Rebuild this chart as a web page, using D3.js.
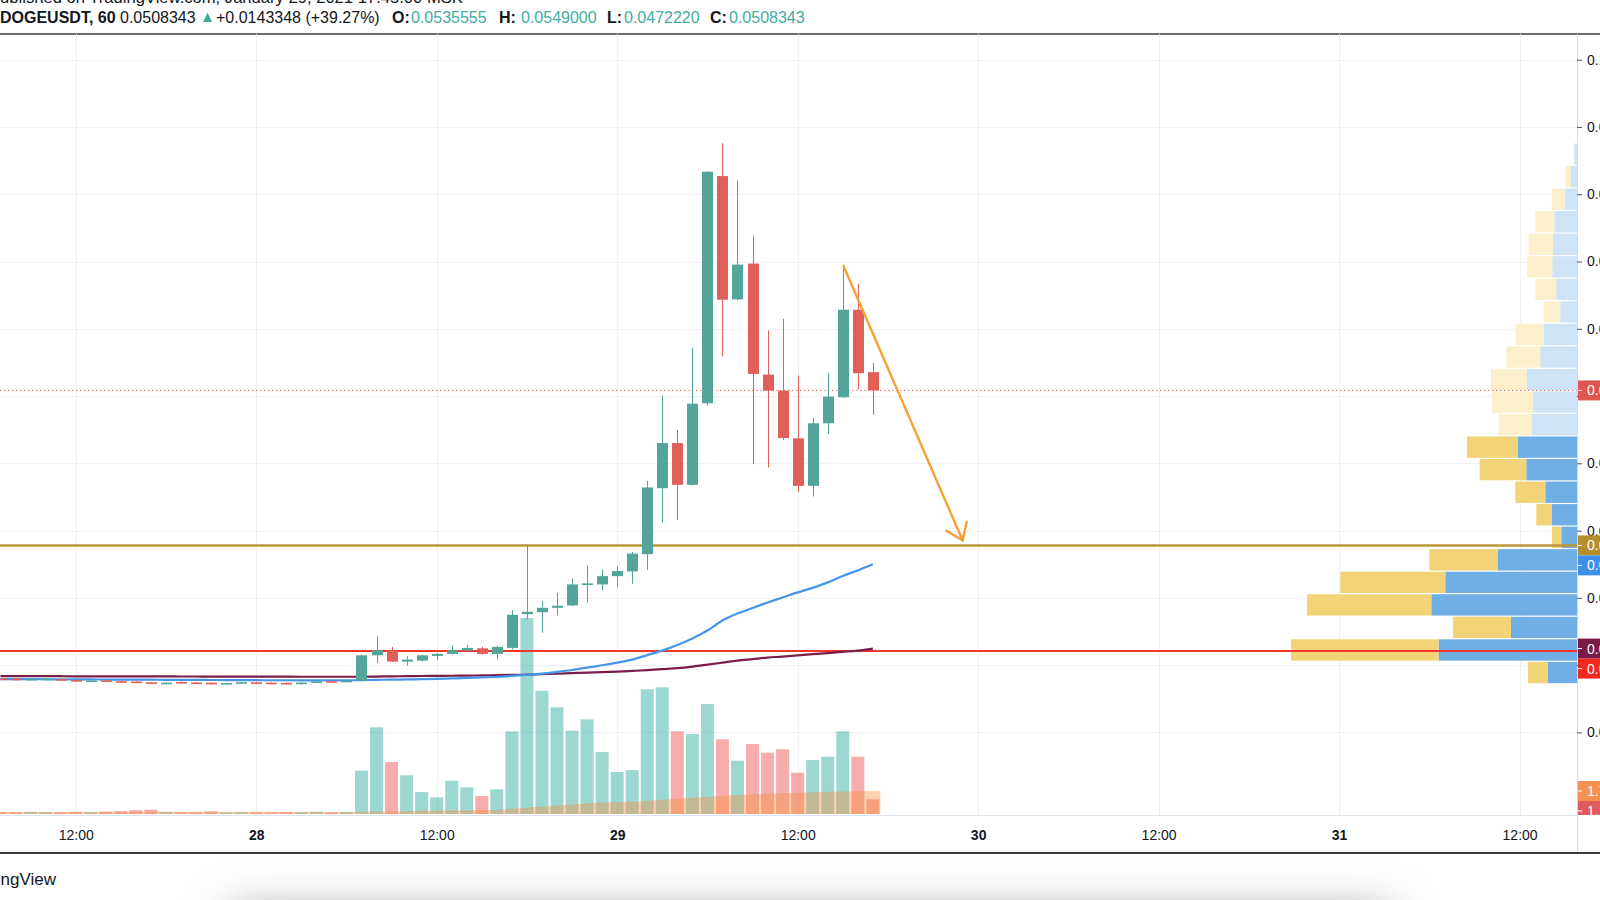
<!DOCTYPE html>
<html><head><meta charset="utf-8">
<script src="https://cdn.jsdelivr.net/npm/d3@7"></script>
<style>
body{margin:0;background:#fff;overflow:hidden}
svg{display:block;font-family:"Liberation Sans",Arial,sans-serif}
</style>
</head><body>
<svg id="c" width="1600" height="900"></svg>
<script>
// ---------------- DATA ----------------
const publishedLine = "Published on TradingView.com, January 29, 2021 17:45:00 MSK";
const symbolLabel = "DOGEUSDT, 60";
const lastPriceText = "0.0508343";
const changeText = "+0.0143348 (+39.27%)";
const ohlcKeys = ["O:", "H:", "L:", "C:"];
const ohlcTexts = ["0.0535555", "0.0549000", "0.0472220", "0.0508343"];
const footerText = "TradingView";

const firstBarTime = "2021-01-27T07:00"; // hourly bars, Jan 27 07:00 .. Jan 29 17:00

const opens = [
 .00800,.00798,.00780,.00782,.00792,.00778,.00756,.00774,.00762,.00756,.00744,.00718,
 .00750,.00742,.00738,.00720,.00732,.00744,.00740,.00736,.00720,.00742,.00762,.00750,
 .00769,.01146,.01216,.01052,.01067,.01137,.01167,.01216,.01250,.01167,.01256,.01757,
 .01787,.01852,.01887,.02195,.02200,.02323,.02393,.02650,.03630,.04301,.03680,.04893,
 .08270,.06437,.06969,.05319,.05080,.04371,.03665,.04595,.04982,.06283,.0535555];
const highs = [
 .00806,.00804,.00802,.00804,.00798,.00784,.00778,.00780,.00768,.00762,.00750,.00744,
 .00756,.00748,.00744,.00740,.00752,.00750,.00746,.00742,.00746,.00764,.00768,.00774,
 .01160,.01429,.01271,.01131,.01157,.01182,.01291,.01301,.01271,.01291,.01817,.02780,
 .01951,.02076,.02285,.02483,.02423,.02473,.02681,.03739,.05006,.04495,.05717,.08340,
 .08757,.08201,.07381,.05975,.06149,.05304,.04674,.05344,.06954,.06671,.0549000];
const lows = [
 .00778,.00776,.00774,.00776,.00770,.00754,.00750,.00750,.00740,.00734,.00718,.00712,
 .00726,.00720,.00714,.00714,.00726,.00722,.00718,.00714,.00714,.00736,.00740,.00744,
 .00760,.01033,.01045,.00993,.01057,.01072,.01157,.01197,.01152,.01092,.01231,.01678,
 .01480,.01738,.01876,.01927,.02110,.02165,.02210,.02413,.03119,.03158,.03670,.04857,
 .05587,.06422,.03988,.03939,.04346,.03575,.03507,.04435,.04972,.05095,.0472220];
const closes = [
 .00784,.00782,.00796,.00798,.00776,.00760,.00772,.00756,.00746,.00740,.00724,.00738,
 .00732,.00726,.00720,.00734,.00746,.00728,.00724,.00720,.00740,.00758,.00746,.00768,
 .01146,.01221,.01052,.01082,.01146,.01167,.01221,.01256,.01167,.01271,.01748,.01793,
 .01852,.01882,.02200,.02215,.02323,.02398,.02657,.03641,.04301,.03680,.04887,.08335,
 .06432,.06954,.05329,.05080,.04375,.03665,.04595,.04991,.06283,.05340,.0508343];
// volume, billions
const volumes = [
 .15,.14,.16,.15,.13,.17,.14,.18,.22,.30,.34,.16,
 .14,.13,.20,.12,.14,.13,.12,.15,.14,.17,.12,.15,
 3.33,6.67,4.00,2.98,1.69,1.28,2.56,2.05,1.38,1.90,6.36,15.08,
 9.48,8.21,6.41,7.28,4.77,3.23,3.38,9.59,9.75,6.36,6.15,8.46,
 5.75,4.10,5.38,4.72,4.98,3.18,4.15,4.41,6.36,4.41,1.13];
const volumeMA = [
 .16,.16,.16,.16,.16,.16,.16,.16,.16,.17,.17,.17,
 .17,.17,.17,.17,.17,.17,.17,.16,.16,.16,.16,.16,
 .17,.20,.22,.24,.25,.26,.28,.29,.30,.31,.40,.50,
 .56,.65,.74,.82,.88,.92,.96,1.02,1.10,1.17,1.25,1.33,
 1.40,1.46,1.51,1.55,1.59,1.63,1.67,1.70,1.73,1.75,1.77];
const maFast = [
 .00792,.00792,.00791,.00790,.00789,.00788,.00787,.00786,.00785,.00784,.00783,.00782,
 .00781,.00780,.00779,.00778,.00777,.00776,.00775,.00775,.00774,.00774,.00774,.00775,
 .00776,.00781,.00784,.00787,.00791,.00796,.00802,.00809,.00817,.00826,.00839,.00854,
 .00873,.00899,.00928,.00963,.00998,.01037,.01082,.01149,.01216,.01298,.01395,.01514,
 .01663,.01766,.01849,.01931,.02006,.02081,.02148,.02230,.02326,.02408,.02498];
const maSlow = [
 .00836,.00836,.00835,.00835,.00835,.00834,.00834,.00834,.00833,.00833,.00832,.00832,
 .00831,.00831,.00830,.00830,.00829,.00829,.00828,.00828,.00827,.00827,.00827,.00827,
 .00827,.00830,.00833,.00836,.00838,.00840,.00842,.00844,.00847,.00851,.00854,.00858,
 .00864,.00872,.00880,.00888,.00895,.00903,.00914,.00925,.00940,.00955,.00978,.01007,
 .01037,.01067,.01089,.01112,.01127,.01145,.01164,.01179,.01197,.01216,.01246];

const goldLevel = 0.0278;
const redLevel = 0.01209;

const priceTicks = [0, .01, .02, .03, .04, .05, .06, .07, .08, .09, .10];
const timeTicks = ["2021-01-27T12:00","2021-01-28T00:00","2021-01-28T12:00","2021-01-29T00:00",
  "2021-01-29T12:00","2021-01-30T00:00","2021-01-30T12:00","2021-01-31T00:00","2021-01-31T12:00"];
const timeTickLabels = ["12:00","28","12:00","29","12:00","30","12:00","31","12:00"];
const timeTickIsDay = [false,true,false,true,false,true,false,true,false];
const timeDomain = ["2021-01-27T06:58","2021-01-31T15:49"];
const priceDomain = [-0.01228, 0.10382];
const volumeDomain = [0, 60];

// visible range volume profile, rows bottom -> top
const profileRange = [0.00721, 0.08762];
const profileUp   = [2.90,13.84,6.60,14.57,13.17,7.90,1.57,2.50,3.17,5.07,5.90,
                     4.50,4.40,5.00,3.67,3.34,1.67,2.07,2.47,2.40,2.27,1.24,0.60,0.27];
const profileDown = [2.00,14.76,5.80,12.43,10.50,6.87,0.93,1.57,3.00,4.67,5.10,
                     3.34,4.10,3.60,3.40,2.83,1.67,2.10,2.53,2.44,1.90,1.26,0.57,0.05];
const valueAreaRows = 11;

const arrowStart = {time: "2021-01-29T15:03", price: 0.06934};
const arrowEnd   = {time: "2021-01-29T22:58", price: 0.02855};

// ---------------- LAYOUT ----------------
const paneR = 1577, paneT = 34, paneB = 815, axisLineY = 853;
const C = {
  up: "#53a59a", down: "#e05f58",
  volUp: "rgba(38,166,154,0.45)", volDown: "rgba(239,83,80,0.48)",
  volMA: "rgba(247,140,60,0.40)",
  blue: "#4596ea", purple: "#7b1d4b", gold: "#bc973a", red: "#f2362b",
  grid: "#eff1f4", text: "#131722", teal: "#3fae9f", arrow: "#f6a136"
};

const svg = d3.select("#c");
const parse = d3.utcParse("%Y-%m-%dT%H:%M");
const t0 = parse(firstBarTime);
const bars = opens.map((o, i) => ({
  t: d3.utcHour.offset(t0, i), o, h: highs[i], l: lows[i], c: closes[i],
  v: volumes[i], vma: volumeMA[i], f: maFast[i], s: maSlow[i]
}));

const x = d3.scaleUtc().domain(timeDomain.map(parse)).range([0, paneR]);
const y = d3.scaleLinear().domain(priceDomain).range([paneB, paneT]);
const yv = d3.scaleLinear().domain(volumeDomain).range([paneB - 1, paneT]);
const hourPx = x(d3.utcHour.offset(t0, 1)) - x(t0);

const defs = svg.append("defs");
defs.append("clipPath").attr("id", "pane").append("rect")
  .attr("x", 0).attr("y", paneT).attr("width", paneR).attr("height", paneB - paneT);
defs.append("clipPath").attr("id", "labels").append("rect")
  .attr("x", 0).attr("y", paneT).attr("width", 1600).attr("height", paneB - paneT);
const blur = defs.append("filter").attr("id", "blur").attr("x", "-20%").attr("y", "-200%")
  .attr("width", "140%").attr("height", "500%");
blur.append("feGaussianBlur").attr("stdDeviation", 22);

// footer shadow
svg.append("rect").attr("x", 230).attr("y", 912).attr("width", 1160).attr("height", 60)
  .attr("fill", "#9a9a9a").attr("filter", "url(#blur)");

// header
svg.append("text").attr("x", -11).attr("y", 3).attr("font-size", 16.6).attr("fill", C.text)
  .text(publishedLine);
const hdr = svg.append("g").attr("font-size", 16);
hdr.append("text").attr("x", 0).attr("y", 23).attr("font-weight", "bold").attr("fill", C.text).text(symbolLabel);
hdr.append("text").attr("x", 120).attr("y", 23).attr("fill", C.text).text(lastPriceText);
hdr.append("path").attr("d", "M203,22 L207.5,12.5 L212,22 Z").attr("fill", C.teal);
hdr.append("text").attr("x", 216).attr("y", 23).attr("fill", C.text).text(changeText);
const keyX = [392, 499, 607, 710], valX = [411, 521, 624, 729];
ohlcKeys.forEach((k, i) => {
  hdr.append("text").attr("x", keyX[i]).attr("y", 23).attr("font-weight", "bold").attr("fill", C.text).text(k);
  hdr.append("text").attr("x", valX[i]).attr("y", 23).attr("fill", C.teal).text(ohlcTexts[i]);
});

// frame lines
svg.append("line").attr("x1", 0).attr("x2", 1600).attr("y1", paneT).attr("y2", paneT)
  .attr("stroke", "#3a3d45").attr("stroke-width", 1.5);

// grid
const grid = svg.append("g");
grid.selectAll(".vg").data(timeTicks.map(parse)).join("line")
  .attr("x1", d => Math.round(x(d)) + .5).attr("x2", d => Math.round(x(d)) + .5)
  .attr("y1", paneT).attr("y2", paneB).attr("stroke", C.grid);
grid.selectAll(".hg").data(priceTicks).join("line")
  .attr("x1", 0).attr("x2", paneR).attr("y1", d => Math.round(y(d)) + .5).attr("y2", d => Math.round(y(d)) + .5)
  .attr("stroke", C.grid);

const pane = svg.append("g").attr("clip-path", "url(#pane)");

// volume profile
const rowH = (y(profileRange[0]) - y(profileRange[1])) / profileUp.length;
const pw = d3.scaleLinear().domain([0, 10]).range([0, 100]);
const prof = pane.append("g");
profileUp.forEach((u, i) => {
  const dn = profileDown[i];
  const yTop = y(profileRange[0]) - (i + 1) * rowH;
  const va = i < valueAreaRows;
  prof.append("rect").attr("x", paneR - pw(u)).attr("y", yTop + 0.5).attr("width", pw(u)).attr("height", rowH - 1.2)
    .attr("fill", va ? "#6fafe5" : "#cfe3f6");
  prof.append("rect").attr("x", paneR - pw(u) - pw(dn)).attr("y", yTop + 0.5).attr("width", pw(dn)).attr("height", rowH - 1.2)
    .attr("fill", va ? "#f3d377" : "#fcefcc");
});

// volume bars
pane.append("g").selectAll("rect").data(bars).join("rect")
  .attr("x", d => x(d.t) - 6.5).attr("width", 13)
  .attr("y", d => yv(d.v)).attr("height", d => yv(0) - yv(d.v))
  .attr("fill", d => d.c >= d.o ? C.volUp : C.volDown);

// volume MA area
const last = bars[bars.length - 1];
const maPts = bars.map(d => [x(d.t), d.vma]).concat([[x(last.t) + hourPx / 2, last.vma]]);
maPts.unshift([x(bars[0].t) - hourPx / 2, bars[0].vma]);
pane.append("path").datum(maPts)
  .attr("d", d3.area().x(d => d[0]).y0(yv(0)).y1(d => yv(d[1])))
  .attr("fill", C.volMA);

// horizontal levels
pane.append("line").attr("x1", 0).attr("x2", paneR).attr("y1", y(goldLevel)).attr("y2", y(goldLevel))
  .attr("stroke", C.gold).attr("stroke-width", 2.5);
pane.append("line").attr("x1", 0).attr("x2", paneR).attr("y1", y(redLevel)).attr("y2", y(redLevel))
  .attr("stroke", C.red).attr("stroke-width", 2);
pane.append("line").attr("x1", 0).attr("x2", paneR).attr("y1", y(last.c)).attr("y2", y(last.c))
  .attr("stroke", "#ef5350").attr("stroke-width", 1).attr("stroke-dasharray", "1.5,2.5").attr("opacity", .8);

// moving averages
pane.append("path").datum(bars).attr("fill", "none").attr("stroke", C.purple).attr("stroke-width", 2.2)
  .attr("d", d3.line().x(d => x(d.t)).y(d => y(d.s)).curve(d3.curveMonotoneX));
pane.append("path").datum(bars).attr("fill", "none").attr("stroke", C.blue).attr("stroke-width", 2.2)
  .attr("d", d3.line().x(d => x(d.t)).y(d => y(d.f)).curve(d3.curveMonotoneX));

// candles
const cg = pane.append("g").selectAll("g").data(bars).join("g");
cg.append("line")
  .attr("x1", d => Math.round(x(d.t)) + .5).attr("x2", d => Math.round(x(d.t)) + .5)
  .attr("y1", d => y(d.h)).attr("y2", d => y(d.l))
  .attr("stroke", d => d.c >= d.o ? C.up : C.down).attr("stroke-width", 1);
cg.append("rect")
  .attr("x", d => Math.round(x(d.t)) - 5).attr("width", 11)
  .attr("y", d => y(Math.max(d.o, d.c)))
  .attr("height", d => Math.max(1.6, Math.abs(y(d.o) - y(d.c))))
  .attr("fill", d => d.c >= d.o ? C.up : C.down);

// arrow
const ax1 = x(parse(arrowStart.time)), ay1 = y(arrowStart.price);
const ax2 = x(parse(arrowEnd.time)), ay2 = y(arrowEnd.price);
const ang = Math.atan2(ay2 - ay1, ax2 - ax1);
const head = 19, spread = 36 * Math.PI / 180;
const ag = pane.append("g").attr("stroke", C.arrow).attr("stroke-width", 2.4).attr("stroke-linecap", "round").attr("fill", "none");
ag.append("line").attr("x1", ax1).attr("y1", ay1).attr("x2", ax2).attr("y2", ay2);
ag.append("path").attr("d", d3.line()([
  [ax2 - head * Math.cos(ang - spread), ay2 - head * Math.sin(ang - spread)],
  [ax2, ay2],
  [ax2 - head * Math.cos(ang + spread), ay2 - head * Math.sin(ang + spread)]
]));

// pane bottom, separator, axis line
svg.append("line").attr("x1", 0).attr("x2", paneR).attr("y1", paneB + .5).attr("y2", paneB + .5).attr("stroke", "#e0e3eb");
svg.append("line").attr("x1", paneR + .5).attr("x2", paneR + .5).attr("y1", paneT).attr("y2", axisLineY)
  .attr("stroke", "#d6d9e0");
svg.append("line").attr("x1", 0).attr("x2", 1600).attr("y1", axisLineY).attr("y2", axisLineY)
  .attr("stroke", "#3a3d45").attr("stroke-width", 2);

// axis value labels (computed first so covered tick labels can be hidden)
const lblH = 20;
function placeLabels(list) {
  list.sort((a, b) => a.y - b.y);
  for (let i = 1; i < list.length; i++) {
    if (list[i].y - list[i - 1].y < lblH - 1) list[i].y = list[i - 1].y + lblH;
  }
  return list;
}
const priceLabels = placeLabels([
  {y: y(last.c), v: last.c, fill: "#df5650"},
  {y: y(goldLevel), v: goldLevel, fill: "#b58f2e"},
  {y: y(last.f), v: last.f, fill: "#3f8fe8"},
  {y: y(last.s), v: last.s, fill: "#7a1a49"},
  {y: y(redLevel), v: redLevel, fill: "#f0281e"}
]).map(d => ({...d, txt: d3.format(".7f")(d.v)}));
const volLabels = placeLabels([
  {y: yv(last.vma), v: last.vma, fill: "#f29152"},
  {y: yv(last.v), v: last.v, fill: "#e05c5c"}
]).map(d => ({...d, txt: d3.format(".3f")(d.v) + "B"}));
const allLabels = priceLabels.concat(volLabels);

// price axis
const pa = svg.append("g").attr("transform", `translate(${paneR},0)`)
  .call(d3.axisRight(y).tickValues(priceTicks).tickFormat(d3.format(".7f")).tickSize(5).tickPadding(5));
pa.select(".domain").remove();
pa.selectAll(".tick line").attr("stroke", "#50535e");
pa.selectAll(".tick text").attr("fill", C.text).attr("font-size", 14)
  .attr("font-family", "Liberation Sans, Arial, sans-serif")
  .attr("display", d => allLabels.some(l => Math.abs(l.y - y(d)) < 14) ? "none" : null);

// time axis
const ta = svg.append("g").attr("transform", `translate(0,${paneB})`)
  .call(d3.axisBottom(x).tickValues(timeTicks.map(parse)).tickFormat((d, i) => timeTickLabels[i]).tickSize(0).tickPadding(15));
ta.select(".domain").remove();
ta.selectAll(".tick text").attr("fill", C.text).attr("font-size", 14)
  .attr("font-family", "Liberation Sans, Arial, sans-serif")
  .attr("font-weight", (d, i) => timeTickIsDay[i] ? "bold" : "normal");

const lg = svg.append("g").attr("clip-path", "url(#labels)");
allLabels.forEach(d => {
  lg.append("rect").attr("x", paneR + 1).attr("y", d.y - lblH / 2).attr("width", 30).attr("height", lblH).attr("fill", d.fill);
  lg.append("line").attr("x1", paneR + 1).attr("x2", paneR + 5).attr("y1", d.y).attr("y2", d.y).attr("stroke", "#fff");
  lg.append("text").attr("x", paneR + 10).attr("y", d.y + 5).attr("font-size", 14).attr("fill", "#fff").text(d.txt);
});

// footer
svg.append("text").attr("x", 56).attr("y", 885).attr("text-anchor", "end").attr("font-size", 17)
  .attr("fill", C.text).text(footerText);
</script>
</body></html>
